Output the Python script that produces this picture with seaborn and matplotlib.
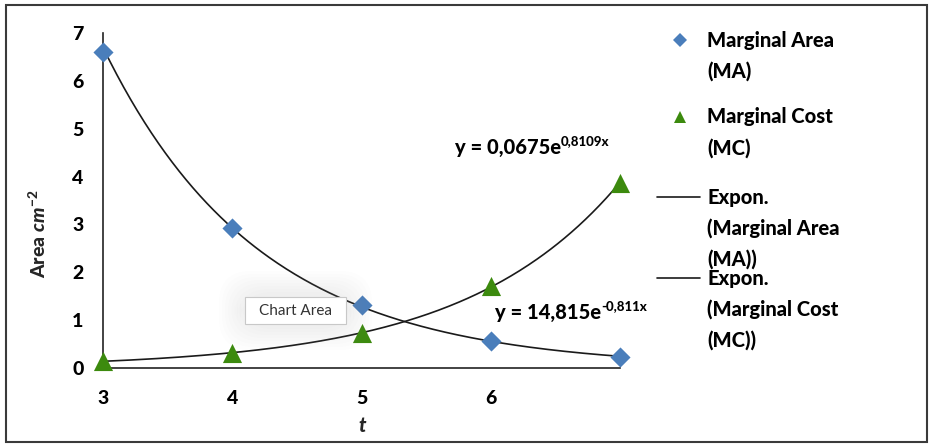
import numpy as np
import pandas as pd
import matplotlib
matplotlib.use("Agg")
import matplotlib.pyplot as plt
import seaborn as sns
from matplotlib.lines import Line2D
from matplotlib.patches import Rectangle, FancyBboxPatch

# ---------------- data ----------------
t_values = [3, 4, 5, 6, 7]
marginal_area = [6.60, 2.92, 1.32, 0.56, 0.24]
marginal_cost = [0.14, 0.32, 0.73, 1.71, 3.86]
x_ticks = [3, 4, 5, 6, 7]
x_tick_labels = ["3", "4", "5", "6", ""]
y_ticks = [0, 1, 2, 3, 4, 5, 6, 7]
series_labels = [["Marginal Area", "(MA)"], ["Marginal Cost", "(MC)"]]
trend_labels = [["Expon.", "(Marginal Area", "(MA))"], ["Expon.", "(Marginal Cost", "(MC))"]]
eq_mc = ("y = 0,0675e", "0,8109x")
eq_ma = ("y = 14,815e", "-0,811x")
x_label = "t"
y_label = r"Area $\mathit{cm}^{-2}$"
tooltip = "Chart Area"

# ---------------- style ----------------
BLUE = "#4A7EBB"
GREEN = "#3C8A0E"
WEIGHT = "black"
sns.set_theme(style="white")
plt.rcParams["font.family"] = ["Lato", "DejaVu Sans"]
plt.rcParams["mathtext.fontset"] = "custom"
plt.rcParams["mathtext.rm"] = "Lato:black"
plt.rcParams["mathtext.it"] = "Lato:italic:black"
plt.rcParams["mathtext.bf"] = "Lato:black"

W, H = 930, 444
fig = plt.figure(figsize=(W / 100, H / 100), dpi=100)
fig.patch.set_facecolor("white")


def fx(px):
    return px / W


def fy(py):
    return 1 - py / H


ax = fig.add_axes([fx(103), fy(368), fx(620) - fx(103), fy(33) - fy(368)])
ax.set_facecolor("white")

df = pd.DataFrame({"t": t_values, "MA": marginal_area, "MC": marginal_cost})

# exponential trend lines (Excel style, x = point index 1..n)
k = np.arange(1, len(t_values) + 1)
grid = np.linspace(t_values[0], t_values[-1], 300)
kg = grid - t_values[0] + 1
for col in ["MA", "MC"]:
    b, lna = np.polyfit(k, np.log(df[col].values), 1)
    fit = np.exp(lna) * np.exp(b * kg)
    sns.lineplot(x=grid, y=fit, ax=ax, color="#1a1a1a", linewidth=1.2,
                 estimator=None, sort=False, zorder=2)

sns.scatterplot(data=df, x="t", y="MA", ax=ax, marker="D", s=105, color=BLUE,
                linewidth=0, clip_on=False, zorder=4)
sns.scatterplot(data=df, x="t", y="MC", ax=ax, marker="^", s=190, color=GREEN,
                linewidth=0, clip_on=False, zorder=4)

ax.set_xlim(3, 7)
ax.set_ylim(0, 7)
ax.set_xticks(x_ticks)
ax.set_xticklabels(x_tick_labels)
ax.set_yticks(y_ticks)
ax.set_xlabel("")
ax.set_ylabel("")
for s in ["top", "right"]:
    ax.spines[s].set_visible(False)
for s in ["left", "bottom"]:
    ax.spines[s].set_color("#222222")
    ax.spines[s].set_linewidth(1.2)
ax.tick_params(axis="both", direction="out", length=6, width=1.1, color="#222222",
               labelsize=14, labelcolor="black")
ax.tick_params(axis="y", pad=8)
ax.tick_params(axis="x", pad=10)
for lab in ax.get_xticklabels() + ax.get_yticklabels():
    lab.set_fontweight(WEIGHT)

# axis titles
fig.text(fx(362), fy(425), x_label, ha="center", va="center", fontsize=14.5,
         fontweight=WEIGHT, fontstyle="italic")
fig.text(fx(38), fy(234), y_label, ha="center", va="center", fontsize=14,
         fontweight=WEIGHT, rotation=90)


# trend equations with superscripts
def equation(base, sup, x, y):
    t = fig.text(fx(x), fy(y), base, ha="left", va="center", fontsize=14.5,
                 fontweight=WEIGHT, color="black")
    ax.annotate(sup, xy=(1.0, 0.8), xycoords=t, ha="left", va="center",
                fontsize=9.5, fontweight=WEIGHT, color="black")


equation(*eq_mc, 455, 147)
equation(*eq_ma, 495, 312)

# tooltip "Chart Area" with soft glow
for i in range(8):
    pad = 26 - i * 3
    glow = FancyBboxPatch((fx(245 - pad), fy(324 + pad)),
                          fx(346 + pad) - fx(245 - pad), fy(297 - pad) - fy(324 + pad),
                          boxstyle="round,pad=0,rounding_size=0.035",
                          mutation_aspect=W / H,
                          transform=fig.transFigure, facecolor="#a0a0a0",
                          edgecolor="none", alpha=0.02, zorder=5)
    fig.add_artist(glow)
box = Rectangle((fx(245), fy(324)), fx(346) - fx(245), fy(297) - fy(324),
                transform=fig.transFigure, facecolor="white", edgecolor="#c8c8c8",
                linewidth=0.8, zorder=6)
fig.add_artist(box)
fig.text(fx(295.5), fy(311), tooltip, ha="center", va="center", fontsize=11,
         color="#333333", zorder=7)

# legend (Excel layout)
LINE_H = 31
legend_rows = [
    ("D", BLUE, series_labels[0], 40),
    ("^", GREEN, series_labels[1], 117),
    ("line", "#1a1a1a", trend_labels[0], 197),
    ("line", "#1a1a1a", trend_labels[1], 278),
]
for kind, color, lines, y0 in legend_rows:
    if kind == "line":
        fig.add_artist(Line2D([fx(657), fx(700)], [fy(y0), fy(y0)], color=color,
                              linewidth=1.2, transform=fig.transFigure))
    else:
        fig.add_artist(Line2D([fx(680)], [fy(y0)], marker=kind, color=color,
                              markersize=7 if kind == "D" else 8, linestyle="none",
                              markeredgewidth=0, transform=fig.transFigure))
    for i, line in enumerate(lines):
        fig.text(fx(707), fy(y0 + i * LINE_H), line, ha="left", va="center",
                 fontsize=14.5, fontweight=WEIGHT, color="black")

# outer chart border
fig.add_artist(Rectangle((fx(6), fy(442)), fx(927) - fx(6), fy(5) - fy(442),
                         transform=fig.transFigure, fill=False,
                         edgecolor="#3a3a3a", linewidth=1.5))

fig.savefig("out.png", dpi=100, facecolor="white")
